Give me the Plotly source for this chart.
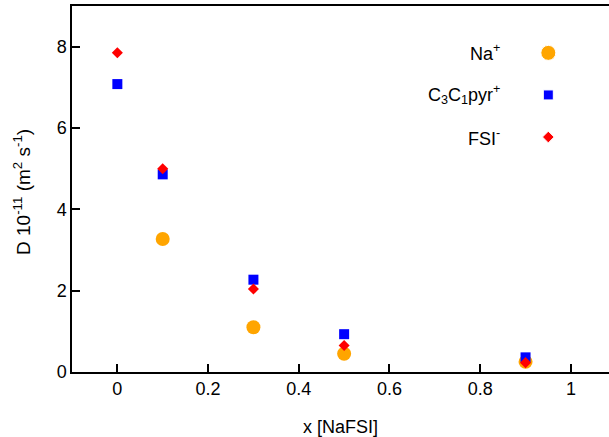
import plotly.graph_objects as go

x_vals = [0, 0.1, 0.3, 0.5, 0.9]
na_x = [0.1, 0.3, 0.5, 0.9]
na_vals = [3.27, 1.10, 0.45, 0.25]
pyr_vals = [7.08, 4.86, 2.27, 0.93, 0.36]
fsi_vals = [7.85, 5.00, 2.04, 0.65, 0.23]

legend_labels = ["Na<sup>+</sup>", "C<sub>3</sub>C<sub>1</sub>pyr<sup>+</sup>", "FSI<sup>-</sup>"]
colors = ["#FFA500", "#0000FF", "#FF0000"]
symbols = ["circle", "square", "diamond"]
FONT = "Liberation Sans, Arial, sans-serif"

fig = go.Figure()
fig.add_trace(go.Scatter(x=na_x, y=na_vals, mode="markers",
                         marker=dict(symbol="circle", size=14, color=colors[0], opacity=1), showlegend=False))
fig.add_trace(go.Scatter(x=x_vals, y=pyr_vals, mode="markers",
                         marker=dict(symbol="square", size=10, color=colors[1], opacity=1), showlegend=False))
fig.add_trace(go.Scatter(x=x_vals, y=fsi_vals, mode="markers",
                         marker=dict(symbol="diamond", size=8.5, color=colors[2], opacity=1), showlegend=False))

# custom legend (marker to the right of the text)
leg_y = [0.872, 0.757, 0.642]
fig.add_trace(go.Scatter(x=[0.887] * 3, y=leg_y, mode="markers", xaxis="x2", yaxis="y2",
                         marker=dict(symbol=symbols, size=[15, 10, 9], color=colors, opacity=1),
                         showlegend=False, hoverinfo="skip"))
for lab, yy in zip(legend_labels, leg_y):
    fig.add_annotation(text=lab, x=0.80, y=yy, xref="paper", yref="paper",
                       xanchor="right", yanchor="middle", showarrow=False,
                       font=dict(size=18, color="black", family=FONT))

fig.add_annotation(text="D 10<sup>-11</sup> (m<sup>2</sup> s<sup>-1</sup>)", textangle=-90,
                   x=0, y=0.5, xref="paper", yref="paper", xanchor="center", yanchor="middle",
                   xshift=-50, yshift=-3, showarrow=False, font=dict(size=19, color="black", family=FONT))
fig.add_annotation(text="x [NaFSI]", x=0.5, y=0, xref="paper", yref="paper",
                   xanchor="center", yanchor="middle", yshift=-55, showarrow=False,
                   font=dict(size=18, color="black", family=FONT))

fig.update_layout(
    width=609, height=437,
    margin=dict(l=72, r=0, t=6, b=65),
    paper_bgcolor="white", plot_bgcolor="white",
    font=dict(family=FONT, size=18, color="black"),
    xaxis=dict(range=[-0.1, 1.084], tickvals=[0, 0.2, 0.4, 0.6, 0.8, 1],
               ticktext=["0", "0.2", "0.4", "0.6", "0.8", "1"],
               ticks="inside", ticklen=8, tickwidth=1.5, tickcolor="black",
               showline=True, linecolor="black", linewidth=1.5, mirror=True,
               showgrid=False, zeroline=False, fixedrange=True),
    yaxis=dict(range=[0, 9], tickvals=[0, 2, 4, 6, 8],
               ticks="inside", ticklen=8, tickwidth=1.5, tickcolor="black",
               showline=True, linecolor="black", linewidth=1.5, mirror=False,
               showgrid=False, zeroline=False, fixedrange=True),
    xaxis2=dict(range=[0, 1], overlaying="x", visible=False, fixedrange=True),
    yaxis2=dict(range=[0, 1], overlaying="y", visible=False, fixedrange=True),
)

fig.write_html("out.html")
